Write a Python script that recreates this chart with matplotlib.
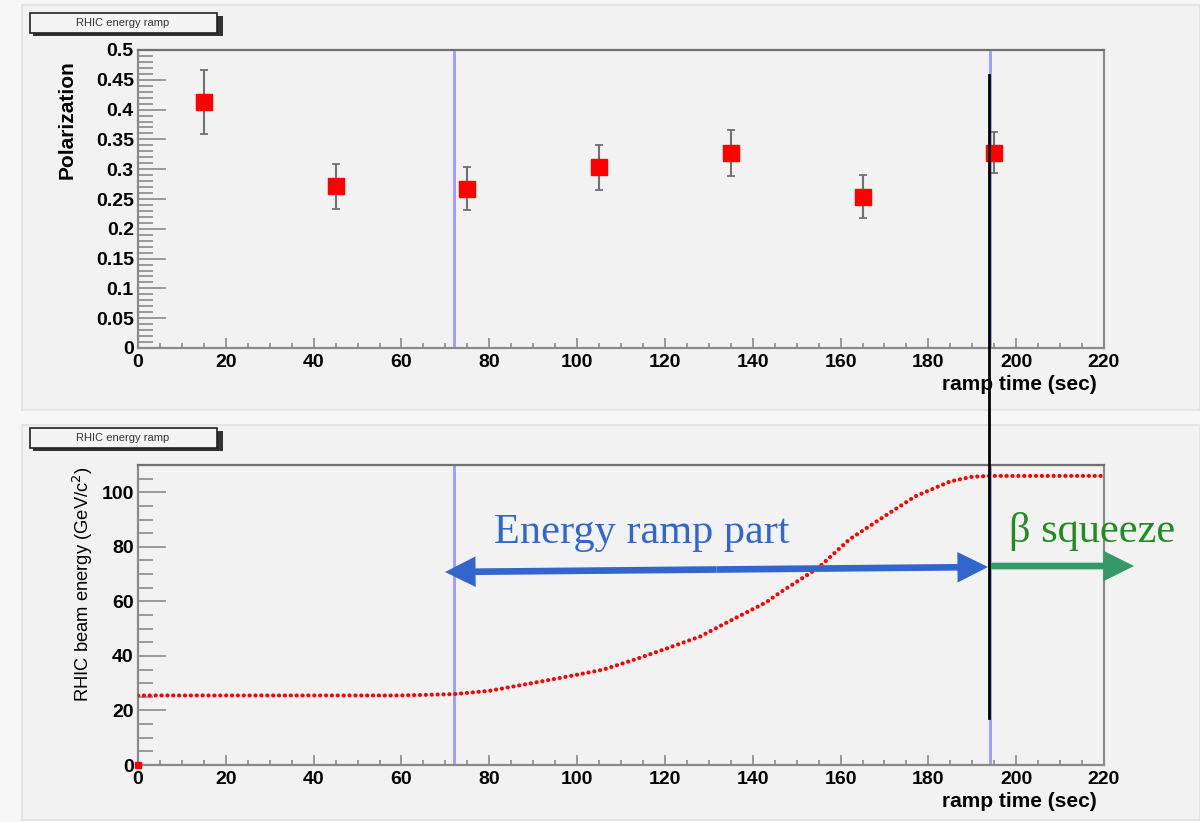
import matplotlib
matplotlib.use('Agg')
import matplotlib.pyplot as plt
from matplotlib.patches import Rectangle, FancyArrowPatch
from matplotlib.lines import Line2D
from matplotlib.ticker import MultipleLocator, FixedLocator, FixedFormatter

W, H = 1200, 822

# polarization measurements along the ramp
pol_time = [15, 45, 75, 105, 135, 165, 195]
pol_value = [0.413, 0.271, 0.267, 0.303, 0.327, 0.254, 0.328]
pol_err = [0.054, 0.037, 0.036, 0.038, 0.039, 0.036, 0.035]

# beam energy
ramp_time = [0, 20, 40, 60, 72, 80, 90, 100, 106, 113, 120, 128, 135, 143,
             146, 155, 162, 170, 177, 185, 190, 194, 200, 210, 220]
ramp_energy = [25.5, 25.5, 25.5, 25.5, 26.0, 27.2, 30.1, 33.1, 35.0, 38.6,
               42.5, 47.1, 53.0, 59.6, 63.0, 72.4, 82.7, 91.2, 98.5, 104.0,
               105.7, 106.0, 106.0, 106.0, 106.0]

ramp_start = 72
ramp_end = 194

pol_ticks = [0, 0.05, 0.1, 0.15, 0.2, 0.25, 0.3, 0.35, 0.4, 0.45, 0.5]
pol_tick_labels = ['0', '0.05', '0.1', '0.15', '0.2', '0.25', '0.3', '0.35',
                   '0.4', '0.45', '0.5']
time_ticks = [0, 20, 40, 60, 80, 100, 120, 140, 160, 180, 200, 220]
energy_ticks = [0, 20, 40, 60, 80, 100]

plt.rcParams['font.family'] = ['Liberation Sans', 'DejaVu Sans']


def fx(px):
    return px / W


def fy(py):
    return 1 - py / H


fig = plt.figure(figsize=(12, 8.22), dpi=100, facecolor='#f7f7f7')

# the two ROOT pads
for top, bot in [(5, 410), (425, 820)]:
    fig.patches.append(Rectangle((fx(22), fy(bot)), fx(1200) - fx(22), fy(top) - fy(bot),
                                 transform=fig.transFigure, facecolor='#f2f2f2',
                                 edgecolor='#e2e2e2', lw=1.2, zorder=-5))

ax1 = fig.add_axes([fx(138), fy(348), fx(1104) - fx(138), fy(50) - fy(348)])
ax2 = fig.add_axes([fx(138), fy(765), fx(1104) - fx(138), fy(465) - fy(765)])

for ax in (ax1, ax2):
    ax.set_facecolor('#f2f2f2')
    ax.set_xlim(0, 220)
    ax.xaxis.set_major_locator(FixedLocator(time_ticks))
    ax.xaxis.set_minor_locator(MultipleLocator(5))
    for s in ax.spines.values():
        s.set_color('#8a8a8a')
        s.set_linewidth(1.6)
    ax.spines['top'].set_color('#707070')
    ax.tick_params(axis='both', which='both', direction='in', colors='#8a8a8a',
                   labelcolor='black', labelsize=14, top=False, right=False)
    ax.tick_params(axis='y', which='major', length=20, width=1.2, pad=3)
    ax.tick_params(axis='y', which='minor', length=11, width=1.2)
    ax.tick_params(axis='x', which='major', length=7, width=1.2, pad=4)
    ax.tick_params(axis='x', which='minor', length=3.5, width=1.2)
    for xv in (ramp_start, ramp_end):
        ax.axvline(xv, color='#9a9aff', lw=2, zorder=2)
    ax.set_xlabel('ramp time (sec)', fontsize=15, fontweight='bold', loc='right',
                  labelpad=3)
    ax.xaxis.label.set_x(0.993)

# top pad: polarization
ax1.set_ylim(0, 0.5)
ax1.yaxis.set_major_locator(FixedLocator(pol_ticks))
ax1.yaxis.set_major_formatter(FixedFormatter(pol_tick_labels))
ax1.yaxis.set_minor_locator(MultipleLocator(0.01))
ax1.errorbar(pol_time, pol_value, yerr=pol_err, fmt='s', color='red', ms=11,
             ecolor='#707070', elinewidth=1.5, capsize=3, capthick=1.3, zorder=4)
ax1.set_ylabel('Polarization', fontsize=15, fontweight='bold', loc='top', labelpad=14)
ax1.yaxis.label.set_y(0.965)

# bottom pad: beam energy
ax2.set_ylim(0, 110)
ax2.yaxis.set_major_locator(FixedLocator(energy_ticks))
ax2.yaxis.set_minor_locator(MultipleLocator(5))
ax2.plot(ramp_time, ramp_energy, color='red', lw=3, linestyle=(0, (0.01, 1.4)),
         dash_capstyle='round', zorder=3)
ax2.plot([0], [0], 's', color='red', ms=4, clip_on=False, zorder=5)
ax2.set_ylabel('RHIC beam energy (GeV/c$^{2}$)', fontsize=13.2, loc='top', labelpad=5)
ax2.yaxis.label.set_y(0.995)

for ax in (ax1, ax2):
    for lab in ax.get_xticklabels() + ax.get_yticklabels():
        lab.set_fontweight('bold')

# pad title boxes
for top in (13, 428):
    fig.patches.append(Rectangle((fx(33), fy(top + 23)), fx(190), fy(0) - fy(20),
                                 transform=fig.transFigure, facecolor='#333333',
                                 edgecolor='none', zorder=5))
    fig.patches.append(Rectangle((fx(30), fy(top + 20)), fx(187), fy(0) - fy(20),
                                 transform=fig.transFigure, facecolor='#f4f4f4',
                                 edgecolor='#222222', lw=1.2, zorder=6))
    fig.text(fx(123), fy(top + 10), 'RHIC energy ramp', fontsize=8, color='#333333',
             ha='center', va='center', zorder=7)

# annotations
blue = '#3366cc'
green = '#339966'
fig.text(fx(494), fy(543), 'Energy ramp part', family='Liberation Serif', fontsize=30.5,
         color=blue, ha='left', va='baseline')
fig.text(fx(1009), fy(542), '\u03b2 squeeze', family='Liberation Serif', fontsize=30.5,
         color='#228b22', ha='left', va='baseline')

arrow_style = 'simple,head_length=22,head_width=22,tail_width=4.8'
mid_x = (445 + 988) / 2
for x0, y0, x1, y1, col in [(mid_x, 569.5, 445, 572, blue), (mid_x, 569.5, 988, 567, blue),
                            (989, 566, 1134, 566, green)]:
    fig.patches.append(FancyArrowPatch((fx(x0), fy(y0)), (fx(x1), fy(y1)),
                                       transform=fig.transFigure, arrowstyle=arrow_style,
                                       mutation_scale=1, lw=0, color=col,
                                       shrinkA=0, shrinkB=0, zorder=8))

# black separator line running across both pads
fig.lines.append(Line2D([fx(989), fx(989)], [fy(75), fy(718)], transform=fig.transFigure,
                        color='black', lw=2, zorder=9))

fig.savefig('out.png', dpi=100, facecolor=fig.get_facecolor())
